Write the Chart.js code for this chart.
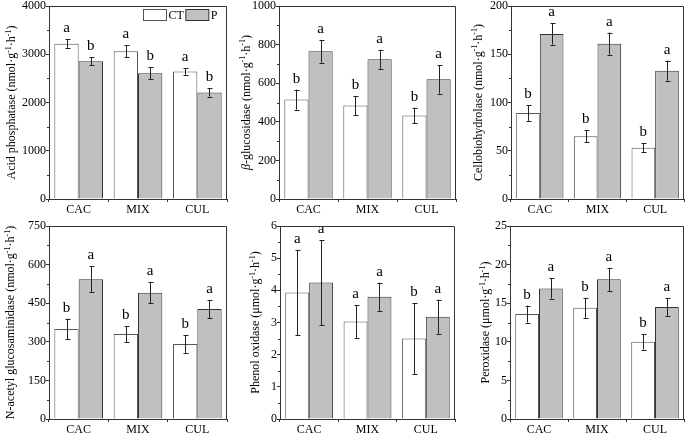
<!DOCTYPE html>
<html>
<head>
<meta charset="utf-8">
<script src="https://cdn.jsdelivr.net/npm/chart.js@4.4.0/dist/chart.umd.min.js"></script>
<style>
  body { margin: 0; background: #fff; width: 685px; height: 434px; position: relative; overflow: hidden; }
  canvas { position: absolute; }
</style>
</head>
<body>
<canvas id="c1"></canvas>
<canvas id="c2"></canvas>
<canvas id="c3"></canvas>
<canvas id="c4"></canvas>
<canvas id="c5"></canvas>
<canvas id="c6"></canvas>
<script>
// categories and series
const categories = ['CAC', 'MIX', 'CUL'];
const seriesNames = ['CT', 'P'];

// acid phosphatase (nmol g-1 h-1)
const acidCT = [3220, 3060, 2645];
const acidCTErr = [87, 125, 70];
const acidP = [2857, 2605, 2207];
const acidPErr = [80, 125, 87];
const acidLetCT = ['a', 'a', 'a'];
const acidLetP = ['b', 'b', 'b'];

// beta-glucosidase
const glucCT = [515, 484, 433];
const glucCTErr = [52, 50, 40];
const glucP = [765, 724, 620];
const glucPErr = [59, 49, 74];
const glucLetCT = ['b', 'b', 'b'];
const glucLetP = ['a', 'a', 'a'];

// cellobiohydrolase
const cellCT = [89, 65, 53];
const cellCTErr = [8, 6, 4.7];
const cellP = [171, 161, 133];
const cellPErr = [11, 11.5, 10.5];
const cellLetCT = ['b', 'b', 'b'];
const cellLetP = ['a', 'a', 'a'];

// N-acetyl glucosaminidase
const nagCT = [350, 330, 291];
const nagCTErr = [40, 31, 34];
const nagP = [543, 491, 427];
const nagPErr = [51, 42, 36];
const nagLetCT = ['b', 'b', 'b'];
const nagLetP = ['a', 'a', 'a'];

// phenol oxidase (umol g-1 h-1)
const phenCT = [3.93, 3.03, 2.50];
const phenCTErr = [1.33, 0.51, 1.10];
const phenP = [4.24, 3.80, 3.18];
const phenPErr = [1.32, 0.44, 0.53];
const phenLetCT = ['a', 'a', 'b'];
const phenLetP = ['a', 'a', 'a'];

// peroxidase
const perCT = [13.6, 14.4, 10.0];
const perCTErr = [1.1, 1.3, 1.0];
const perP = [16.9, 18.1, 14.5];
const perPErr = [1.3, 1.5, 1.2];
const perLetCT = ['b', 'b', 'b'];
const perLetP = ['a', 'a', 'a'];

const FONT = "'Liberation Serif', 'Times New Roman', serif";
const AXIS = '#333';

// error bars, letters, minor ticks, frame, legend, y title
const extras = {
  id: 'extras',
  afterDatasetsDraw(chart) {
    const ctx = chart.ctx;
    const ys = chart.scales.y;
    ctx.save();
    chart.data.datasets.forEach((ds, i) => {
      const meta = chart.getDatasetMeta(i);
      meta.data.forEach((bar, j) => {
        const v = ds.data[j], e = ds.errors[j];
        const yt = ys.getPixelForValue(v + e);
        const yb = ys.getPixelForValue(v - e);
        const x = Math.round(bar.x) + 0.5;
        ctx.strokeStyle = '#222';
        ctx.lineWidth = 1;
        ctx.beginPath();
        ctx.moveTo(x, yt); ctx.lineTo(x, yb);
        ctx.moveTo(x - 2, Math.round(yt) + 0.5); ctx.lineTo(x + 3, Math.round(yt) + 0.5);
        ctx.moveTo(x - 2, Math.round(yb) + 0.5); ctx.lineTo(x + 3, Math.round(yb) + 0.5);
        ctx.stroke();
        ctx.fillStyle = '#000';
        ctx.font = '15px ' + FONT;
        ctx.textAlign = 'center';
        ctx.textBaseline = 'alphabetic';
        ctx.fillText(ds.letters[j], bar.x, yt - 7);
      });
    });
    ctx.restore();
  },
  afterDraw(chart) {
    const ctx = chart.ctx;
    const a = chart.chartArea;
    const ys = chart.scales.y;
    const opts = chart.options.plugins.extras;
    ctx.save();
    ctx.strokeStyle = AXIS;
    ctx.lineWidth = 1;
    // top and right frame
    ctx.beginPath();
    ctx.moveTo(a.left, Math.round(a.top) + 0.5);
    ctx.lineTo(Math.round(a.right) - 0.5, Math.round(a.top) + 0.5);
    ctx.lineTo(Math.round(a.right) - 0.5, a.bottom);
    ctx.stroke();
    // minor ticks halfway between major ticks
    const step = ys.options.ticks.stepSize;
    ctx.beginPath();
    for (let v = step / 2; v < ys.max; v += step) {
      const y = Math.round(ys.getPixelForValue(v)) + 0.5;
      ctx.moveTo(a.left - 2, y); ctx.lineTo(a.left, y);
    }
    ctx.stroke();
    // y axis title, pieces with their own font (italic beta, superscripts)
    ctx.translate(opts.titleX, (a.top + a.bottom) / 2);
    ctx.rotate(-Math.PI / 2);
    ctx.fillStyle = '#000';
    ctx.textBaseline = 'middle';
    ctx.textAlign = 'left';
    const parts = opts.title;
    let total = 0;
    parts.forEach((pt) => {
      ctx.font = (pt.i ? 'italic ' : '') + (pt.s ? 8 : 12) + 'px ' + FONT;
      pt.w = ctx.measureText(pt.t).width;
      total += pt.w;
    });
    let tx = -total / 2;
    parts.forEach((pt) => {
      ctx.font = (pt.i ? 'italic ' : '') + (pt.s ? 8 : 12) + 'px ' + FONT;
      ctx.fillText(pt.t, tx, pt.s ? -3.5 : 0);
      tx += pt.w;
    });
    ctx.setTransform(1, 0, 0, 1, 0, 0);
    // legend
    if (opts.legend) {
      const ds = chart.data.datasets;
      ctx.font = '12px ' + FONT;
      ctx.textBaseline = 'middle';
      ctx.textAlign = 'left';
      ctx.lineWidth = 1;
      let x = Math.round(a.right) - 83.5;
      const y = Math.round(a.top) + 3.5;
      ds.forEach((d) => {
        ctx.fillStyle = d.backgroundColor;
        ctx.fillRect(x, y, 23, 11);
        ctx.strokeStyle = d.borderColor;
        ctx.strokeRect(x, y, 23, 11);
        ctx.fillStyle = '#000';
        ctx.fillText(d.label, x + 25, y + 6);
        x += 25 + ctx.measureText(d.label).width + 2;
      });
    }
    ctx.restore();
  }
};

function unitParts(name, unit, italicHead) {
  const parts = [];
  if (italicHead) {
    parts.push({ t: italicHead, i: true });
  }
  parts.push({ t: name + ' (' + unit + 'mol·g' });
  parts.push({ t: '-1', s: true });
  parts.push({ t: '·h' });
  parts.push({ t: '-1', s: true });
  parts.push({ t: ')' });
  return parts;
}

function panel(id, box, yMax, yStep, title, ct, ctErr, ctLet, p, pErr, pLet, legend) {
  const cv = document.getElementById(id);
  const left = Math.round(box.title - 12);
  const top = box.top - 8;
  const width = box.right + 1 - left;
  const height = box.bottom + 22 - top;
  cv.width = width; cv.height = height;
  cv.style.left = left + 'px'; cv.style.top = top + 'px';
  cv.style.width = width + 'px'; cv.style.height = height + 'px';
  const yWidth = box.left - left;

  new Chart(cv, {
    type: 'bar',
    data: {
      labels: categories,
      datasets: [{
        label: seriesNames[0],
        data: ct,
        errors: ctErr,
        letters: ctLet,
        backgroundColor: '#ffffff',
        borderColor: '#555',
        borderWidth: 1
      }, {
        label: seriesNames[1],
        data: p,
        errors: pErr,
        letters: pLet,
        backgroundColor: '#c0c0c0',
        borderColor: '#333',
        borderWidth: 1
      }]
    },
    options: {
      responsive: false,
      animation: false,
      devicePixelRatio: 1,
      layout: { padding: { top: 8, right: 1, left: 0, bottom: 0 } },
      datasets: { bar: { categoryPercentage: 0.82, barPercentage: 1.0 } },
      plugins: {
        legend: { display: false },
        tooltip: { enabled: false },
        extras: { legend: legend, title: title, titleX: box.title - left }
      },
      scales: {
        x: {
          grid: { offset: true, drawOnChartArea: false, tickLength: 3, color: AXIS },
          border: { color: AXIS },
          ticks: { color: '#000', padding: 1, font: { family: FONT, size: 12 } },
          afterFit: (s) => { s.height = 22; }
        },
        y: {
          min: 0,
          max: yMax,
          grid: { drawOnChartArea: false, tickLength: 3, color: AXIS },
          border: { color: AXIS },
          ticks: {
            stepSize: yStep, color: '#000', padding: 0,
            format: { useGrouping: false },
            font: { family: FONT, size: 12 }
          },
          title: { display: false },
          afterFit: (s) => { s.width = yWidth; }
        }
      }
    },
    plugins: [extras]
  });
}

panel('c1', { left: 49, right: 227, top: 6, bottom: 199, title: 12 }, 4000, 1000,
  unitParts('Acid phosphatase', 'n'), acidCT, acidCTErr, acidLetCT, acidP, acidPErr, acidLetP, true);
panel('c2', { left: 279, right: 456, top: 6, bottom: 199, title: 246.5 }, 1000, 200,
  unitParts('-glucosidase', 'n', 'β'), glucCT, glucCTErr, glucLetCT, glucP, glucPErr, glucLetP, false);
panel('c3', { left: 511, right: 684, top: 6, bottom: 199, title: 478.5 }, 200, 50,
  unitParts('Cellobiohydrolase', 'n'), cellCT, cellCTErr, cellLetCT, cellP, cellPErr, cellLetP, false);
panel('c4', { left: 49, right: 227, top: 226, bottom: 419, title: 11 }, 750, 150,
  unitParts('N-acetyl glucosaminidase', 'n'), nagCT, nagCTErr, nagLetCT, nagP, nagPErr, nagLetP, false);
panel('c5', { left: 280, right: 455, top: 226, bottom: 419, title: 256 }, 6, 1,
  unitParts('Phenol oxidase', 'μ'), phenCT, phenCTErr, phenLetCT, phenP, phenPErr, phenLetP, false);
panel('c6', { left: 510, right: 684, top: 226, bottom: 419, title: 486 }, 25, 5,
  unitParts('Peroxidase', 'μ'), perCT, perCTErr, perLetCT, perP, perPErr, perLetP, false);
</script>
</body>
</html>
